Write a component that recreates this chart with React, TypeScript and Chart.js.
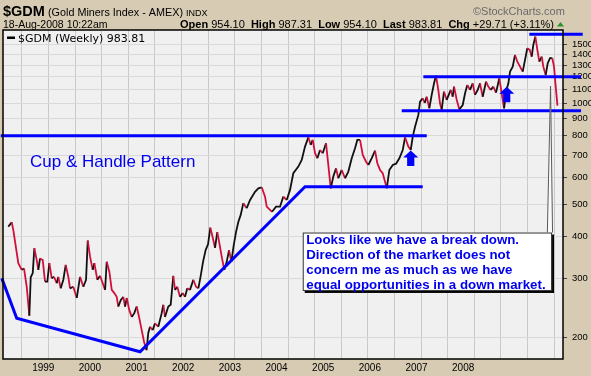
import React, { useEffect, useRef } from 'react';
import { Chart, registerables } from 'chart.js';

Chart.register(...registerables);

// ---------- DATA ----------
// Weekly closes of $GDM, dates as decimal years
const weekDates = [
  1998.243, 1998.307, 1998.337, 1998.431, 1998.495, 1998.538, 1998.589, 1998.638, 1998.664, 1998.702,
  1998.732, 1998.777, 1998.807, 1998.839, 1998.890, 1998.933, 1998.976, 1999.014, 1999.059, 1999.102,
  1999.153, 1999.183, 1999.228, 1999.277, 1999.322, 1999.371, 1999.403, 1999.465, 1999.529, 1999.591,
  1999.653, 1999.704, 1999.736, 1999.779, 1999.830, 1999.860, 1999.916, 1999.967, 2000.018, 2000.061,
  2000.093, 2000.142, 2000.187, 2000.235, 2000.280, 2000.311, 2000.356, 2000.405, 2000.437, 2000.469,
  2000.517, 2000.563, 2000.611, 2000.656, 2000.705, 2000.750, 2000.794, 2000.841, 2000.874, 2000.906,
  2000.957, 2001.000, 2001.062, 2001.126, 2001.157, 2001.188, 2001.250, 2001.295, 2001.344, 2001.376,
  2001.419, 2001.470, 2001.521, 2001.564, 2001.607, 2001.658, 2001.720, 2001.771, 2001.815, 2001.859,
  2001.903, 2001.953, 2001.997, 2002.040, 2002.085, 2002.128, 2002.171, 2002.216, 2002.260, 2002.303,
  2002.348, 2002.392, 2002.435, 2002.480, 2002.523, 2002.566, 2002.611, 2002.660, 2002.724, 2002.787,
  2002.880, 2002.943, 2003.006, 2003.068, 2003.100, 2003.200, 2003.275, 2003.350, 2003.412, 2003.476,
  2003.538, 2003.600, 2003.694, 2003.758, 2003.820, 2003.882, 2003.927, 2003.965, 2004.008, 2004.052,
  2004.102, 2004.153, 2004.215, 2004.258, 2004.303, 2004.352, 2004.403, 2004.446, 2004.510, 2004.572,
  2004.634, 2004.698, 2004.760, 2004.803, 2004.854, 2004.905, 2004.967, 2005.010, 2005.074, 2005.136,
  2005.179, 2005.230, 2005.280, 2005.324, 2005.356, 2005.405, 2005.469, 2005.531, 2005.593, 2005.657,
  2005.700, 2005.762, 2005.807, 2005.845, 2005.888, 2005.950, 2005.982, 2006.032, 2006.070, 2006.107,
  2006.156, 2006.201, 2006.245, 2006.282, 2006.325, 2006.357, 2006.389, 2006.432, 2006.483, 2006.521,
  2006.559, 2006.596, 2006.621, 2006.672, 2006.720, 2006.784, 2006.828, 2006.871, 2006.922, 2006.972,
  2007.015, 2007.066, 2007.109, 2007.160, 2007.222, 2007.265, 2007.310, 2007.359, 2007.410, 2007.472,
  2007.517, 2007.561, 2007.598, 2007.642, 2007.674, 2007.724, 2007.767, 2007.811, 2007.861, 2007.912,
  2007.955, 2007.998, 2008.044, 2008.081, 2008.111, 2008.149, 2008.187, 2008.224, 2008.269, 2008.299,
  2008.344, 2008.382, 2008.425, 2008.468, 2008.500, 2008.532, 2008.565,
];
const gdmClose = [
  428, 441, 418, 333, 318, 321, 283, 232, 302, 311,
  369, 340, 318, 344, 340, 293, 293, 333, 300, 303,
  290, 303, 280, 297, 329, 303, 280, 283, 262, 303,
  283, 297, 389, 348, 318, 333, 297, 305, 290, 277,
  336, 314, 277, 271, 264, 247, 258, 264, 247, 262,
  241, 230, 236, 247, 228, 210, 194, 183, 206, 215,
  210, 220, 215, 236, 250, 230, 247, 250, 305, 277,
  283, 264, 271, 264, 280, 277, 297, 283, 280, 305,
  336, 365, 379, 425, 397, 370, 412, 377, 344, 318,
  336, 364, 336, 377, 412, 442, 464, 503, 486, 514,
  544, 557, 561, 526, 491, 474, 491, 491, 526, 514,
  551, 618, 647, 677, 742, 791, 751, 777, 709, 685,
  725, 709, 759, 654, 557, 604, 639, 597, 632, 597,
  625, 685, 734, 777, 777, 701, 669, 654, 686, 722,
  662, 632, 618, 583, 557, 632, 654, 660, 685, 725,
  791, 742, 725, 795, 851, 923, 1011, 1035, 1002, 1046,
  966, 1059, 1147, 1209, 1096, 1000, 955, 1083, 1023, 1059,
  1096, 1046, 1121, 1023, 959, 988, 1071, 1134, 1096, 1147,
  1059, 1096, 1147, 1046, 1160, 1121, 1096, 1121, 1076, 1188,
  1071, 966, 1083, 1147, 1243, 1286, 1394, 1331, 1286, 1243,
  1347, 1460, 1443, 1378, 1493, 1581, 1443, 1331, 1378, 1286,
  1215, 1317, 1363, 1363, 1286, 1121, 984,
];

const yTickValues = [200, 300, 400, 500, 600, 700, 800, 900, 1000, 1100, 1200, 1300, 1400, 1500];
const yearLabels = ['1999', '2000', '2001', '2002', '2003', '2004', '2005', '2006', '2007', '2008'];

// Trend-line annotations (date, value)
const cupLineDates = [1998.12, 1998.401, 2000.719, 2003.82, 2006.032];
const cupLineValues = [300, 228, 181, 563, 563];
const line800Dates = [1998.1, 2006.108];
const line800Values = [800, 800];
const line950Dates = [2005.638, 2009.008];
const line950Values = [950, 950];
const line1200Dates = [2006.044, 2009.008];
const line1200Values = [1200, 1200];
const line1600Dates = [2008.036, 2009.04];
const line1600Values = [1607, 1607];

// Breakout arrows (tip date, tip value)
const arrowDates = [2005.807, 2007.611];
const arrowValues = [722, 1121];

// Callout
const calloutTipDate = 2008.435;
const calloutTipValue = 1126;
const calloutBoxDates = [2003.777, 2008.463];
const calloutBoxValues = [411, 275];
const calloutBaseDate = 2008.375;
const calloutLines = [
  'Looks like we have a break down.',
  'Direction of the market does not',
  'concern me as much as we have',
  'equal opportunities in a down market.',
];
const patternLabel = 'Cup & Handle Pattern';

const quoteLabels = ['Open', 'High', 'Low', 'Last', 'Chg'];
const quoteValues = ['954.10', '987.31', '954.10', '983.81', '+29.71 (+3.11%)'];

// ---------- STYLE ----------
const SANS = "'Liberation Sans', Arial, sans-serif";
const TAN = '#d7cbb3';
const PLOT_BG = '#f0f0f0';
const BLUE = '#0000ff';
const RED = '#d0103a';

const decorPlugin = {
  id: 'decor',
  beforeDraw(chart: any) {
    const { ctx, chartArea: a, width, height } = chart;
    ctx.save();
    ctx.fillStyle = TAN;
    ctx.fillRect(0, 0, width, height);
    ctx.fillStyle = PLOT_BG;
    ctx.fillRect(a.left, a.top, a.right - a.left, a.bottom - a.top);
    ctx.restore();
  },
  afterDatasetsDraw(chart: any) {
    const { ctx, chartArea: a } = chart;
    const xs = chart.scales.x;
    const ys = chart.scales.y;
    ctx.save();
    // arrows
    ctx.fillStyle = BLUE;
    arrowDates.forEach((d, i) => {
      const px = xs.getPixelForValue(d);
      const py = ys.getPixelForValue(arrowValues[i]);
      ctx.beginPath();
      ctx.moveTo(px, py);
      ctx.lineTo(px + 7.5, py + 7);
      ctx.lineTo(px + 3.6, py + 7);
      ctx.lineTo(px + 3.6, py + 15.5);
      ctx.lineTo(px - 3.6, py + 15.5);
      ctx.lineTo(px - 3.6, py + 7);
      ctx.lineTo(px - 7.5, py + 7);
      ctx.closePath();
      ctx.fill();
    });

    // callout
    const bx0 = xs.getPixelForValue(calloutBoxDates[0]);
    const bx1 = xs.getPixelForValue(calloutBoxDates[1]);
    const by0 = ys.getPixelForValue(calloutBoxValues[0]);
    const by1 = ys.getPixelForValue(calloutBoxValues[1]);
    const tx = xs.getPixelForValue(calloutTipDate);
    const ty = ys.getPixelForValue(calloutTipValue);
    const baseX = xs.getPixelForValue(calloutBaseDate);
    ctx.beginPath();
    ctx.moveTo(baseX, by0);
    ctx.lineTo(tx, ty);
    ctx.lineTo(bx1, by0);
    ctx.closePath();
    ctx.fillStyle = '#fafafa';
    ctx.fill();
    ctx.strokeStyle = '#5a5a5a';
    ctx.lineWidth = 1;
    ctx.beginPath();
    ctx.moveTo(baseX, by0);
    ctx.lineTo(tx, ty);
    ctx.lineTo(bx1 + 0.5, by0);
    ctx.stroke();
    // shadow
    ctx.fillStyle = '#000';
    ctx.fillRect(bx0 + 2, by1, bx1 - bx0, 2);
    ctx.fillRect(bx1, by0 + 2, 2, by1 - by0);
    ctx.fillStyle = '#fff';
    ctx.fillRect(bx0, by0, bx1 - bx0, by1 - by0);
    ctx.strokeStyle = '#333';
    ctx.strokeRect(bx0 + 0.5, by0 + 0.5, bx1 - bx0 - 1, by1 - by0 - 1);
    ctx.fillStyle = '#0000ee';
    ctx.font = `bold 13.3px ${SANS}`;
    ctx.textBaseline = 'alphabetic';
    calloutLines.forEach((t, i) => {
      ctx.fillText(t, bx0 + 3.5, by0 + 11.5 + i * 15);
    });

    // pattern label
    ctx.fillStyle = '#0000ee';
    ctx.font = `17px ${SANS}`;
    ctx.fillText(patternLabel, a.left + 27, a.top + 137);
    ctx.restore();
  },
  afterDraw(chart: any) {
    const { ctx, chartArea: a } = chart;
    ctx.save();
    // plot frame
    ctx.strokeStyle = '#000';
    ctx.lineWidth = 1.5;
    ctx.strokeRect(a.left, a.top, a.right - a.left, a.bottom - a.top);

    // header
    ctx.textBaseline = 'alphabetic';
    ctx.fillStyle = '#000';
    ctx.font = `bold 14.5px ${SANS}`;
    ctx.fillText('$GDM', 3, 16);
    ctx.font = `10.8px ${SANS}`;
    ctx.fillText('(Gold Miners Index - AMEX)', 48, 16);
    ctx.font = `9px ${SANS}`;
    ctx.fillText('INDX', 186, 16);
    ctx.fillStyle = '#6a6a6a';
    ctx.font = `11px ${SANS}`;
    ctx.fillText('\u00A9StockCharts.com', 473, 15);

    ctx.fillStyle = '#000';
    ctx.font = `10.5px ${SANS}`;
    ctx.fillText('18-Aug-2008 10:22am', 3, 28);
    let x = 180;
    quoteLabels.forEach((lab, i) => {
      ctx.font = `bold 11px ${SANS}`;
      ctx.fillText(lab, x, 28);
      x += ctx.measureText(lab + ' ').width;
      ctx.font = `11px ${SANS}`;
      ctx.fillText(quoteValues[i], x, 28);
      x += ctx.measureText(quoteValues[i] + '  ').width;
    });
    ctx.fillStyle = '#2f8f2f';
    ctx.beginPath();
    ctx.moveTo(557, 26.5);
    ctx.lineTo(564, 26.5);
    ctx.lineTo(560.5, 22);
    ctx.closePath();
    ctx.fill();

    // in-plot legend
    ctx.fillStyle = '#000';
    ctx.fillRect(a.left + 4, a.top + 6.5, 8, 2.5);
    ctx.font = `11px 'DejaVu Sans', Verdana, sans-serif`;
    ctx.fillText('$GDM (Weekly) 983.81', a.left + 15, a.top + 11.5);
    ctx.restore();
  },
};

const X_MIN = 1998.143;
const X_MAX = 2008.669;

export default function App() {
  const ref = useRef<HTMLCanvasElement | null>(null);
  useEffect(() => {
    document.body.style.margin = '0';
    const canvas = ref.current;
    if (!canvas) return;
    const mk = (dates: number[], vals: number[]) => dates.map((d, i) => ({ x: d, y: vals[i] }));
    const blueLine = (dates: number[], vals: number[]) => ({
      data: mk(dates, vals),
      borderColor: BLUE,
      borderWidth: 3,
      pointRadius: 0,
      clip: false as any,
      xAxisID: 'x',
      yAxisID: 'y',
    });
    const halfYears: number[] = [];
    for (let v = 1998.5; v <= 2008.51; v += 0.5) halfYears.push(v);

    const chart = new Chart(canvas, {
      type: 'line',
      data: {
        datasets: [
          blueLine(cupLineDates, cupLineValues),
          blueLine(line800Dates, line800Values),
          blueLine(line950Dates, line950Values),
          blueLine(line1200Dates, line1200Values),
          blueLine(line1600Dates, line1600Values),
          {
            data: mk(weekDates, gdmClose),
            borderColor: '#111',
            borderWidth: 1.8,
            pointRadius: 0,
            segment: {
              borderColor: (c: any) => (c.p1.parsed.y < c.p0.parsed.y ? RED : '#111'),
            },
            xAxisID: 'x',
            yAxisID: 'y',
          } as any,
        ],
      },
      options: {
        responsive: false,
        maintainAspectRatio: false,
        animation: false,
        layout: { padding: { left: 3, top: 30, right: 0, bottom: 0 } },
        plugins: { legend: { display: false }, tooltip: { enabled: false } },
        elements: { point: { radius: 0 }, line: { tension: 0 } },
        scales: {
          x: {
            type: 'linear',
            position: 'bottom',
            min: X_MIN,
            max: X_MAX,
            afterBuildTicks: (s: any) => {
              s.ticks = halfYears.map((v) => ({ value: v }));
            },
            grid: { color: '#c9c9c9', lineWidth: 1, drawTicks: false },
            border: { display: false },
            ticks: { display: false },
            afterFit: (s: any) => {
              s.height = 0;
            },
          },
          xl: {
            type: 'linear',
            position: 'bottom',
            min: 1998.137,
            max: 2010.14,
            afterBuildTicks: (s: any) => {
              s.ticks = yearLabels.map((y) => ({ value: Number(y) }));
            },
            grid: { display: false, drawTicks: false },
            border: { display: false },
            ticks: {
              autoSkip: false,
              maxRotation: 0,
              color: '#000',
              padding: 3,
              font: { family: SANS, size: 10 },
              callback: (_v: any, i: number) => yearLabels[i],
            },
            afterFit: (s: any) => {
              s.height = 17;
            },
          },
          y: {
            type: 'logarithmic',
            position: 'right',
            min: 172.2,
            max: 1655,
            afterBuildTicks: (s: any) => {
              s.ticks = yTickValues.map((v) => ({ value: v }));
            },
            grid: { color: '#d9d9d9', tickColor: '#444', tickLength: 4 },
            border: { display: false },
            ticks: {
              autoSkip: false,
              color: '#000',
              padding: 5,
              font: { family: SANS, size: 9.5 },
              callback: (v: any) => String(v),
            },
            afterFit: (s: any) => {
              s.width = 28;
            },
          },
        },
      } as any,
      plugins: [decorPlugin],
    });
    return () => chart.destroy();
  }, []);
  return (
    <div style={{ width: 591, height: 376 }}>
      <canvas ref={ref} width={591} height={376} style={{ display: 'block', width: 591, height: 376 }} />
    </div>
  );
}
